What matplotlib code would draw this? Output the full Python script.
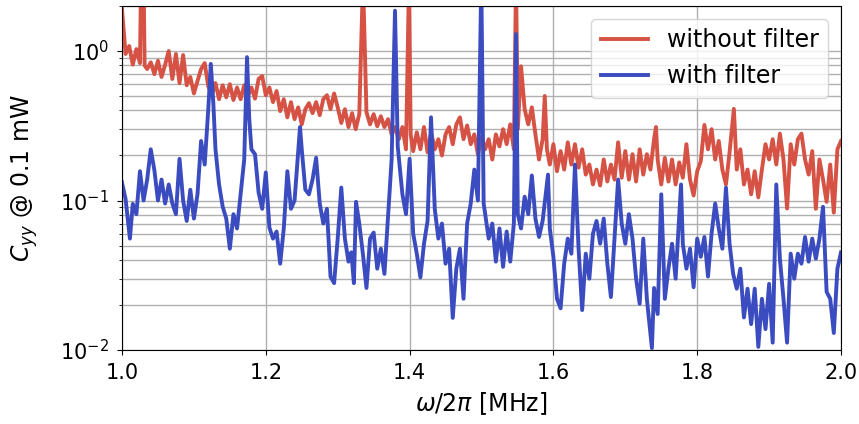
import matplotlib
matplotlib.use("Agg")
import matplotlib.pyplot as plt

# ---- data: without filter ----
freq_nofilter = [
    1.000, 1.005, 1.010, 1.015, 1.020, 1.025, 1.0265, 1.030, 1.0315, 1.035,
    1.040, 1.045, 1.050, 1.055, 1.060, 1.065, 1.070, 1.075, 1.080, 1.085,
    1.090, 1.095, 1.100, 1.105, 1.110, 1.115, 1.120, 1.125, 1.130, 1.135,
    1.140, 1.145, 1.150, 1.155, 1.160, 1.165, 1.170, 1.175, 1.180, 1.185,
    1.190, 1.195, 1.200, 1.205, 1.210, 1.215, 1.220, 1.225, 1.230, 1.235,
    1.240, 1.245, 1.250, 1.255, 1.260, 1.265, 1.270, 1.275, 1.280, 1.285,
    1.290, 1.295, 1.300, 1.305, 1.310, 1.315, 1.320, 1.325, 1.330, 1.3352,
    1.340, 1.345, 1.350, 1.355, 1.360, 1.365, 1.370, 1.375, 1.380, 1.385,
    1.390, 1.395, 1.3992, 1.4015, 1.405, 1.410, 1.415, 1.420, 1.425, 1.430,
    1.435, 1.440, 1.445, 1.450, 1.455, 1.460, 1.465, 1.470, 1.475, 1.480,
    1.485, 1.490, 1.495, 1.500, 1.505, 1.510, 1.515, 1.520, 1.525, 1.530,
    1.535, 1.540, 1.545, 1.548, 1.5505, 1.555, 1.560, 1.565, 1.570, 1.575,
    1.580, 1.585, 1.588, 1.591, 1.595, 1.600, 1.605, 1.610, 1.615, 1.620,
    1.625, 1.630, 1.635, 1.640, 1.645, 1.650, 1.655, 1.660, 1.665, 1.670,
    1.675, 1.680, 1.685, 1.690, 1.695, 1.700, 1.705, 1.710, 1.715, 1.720,
    1.725, 1.730, 1.735, 1.740, 1.7427, 1.745, 1.750, 1.755, 1.760, 1.765,
    1.770, 1.775, 1.780, 1.785, 1.790, 1.795, 1.800, 1.805, 1.810, 1.815,
    1.820, 1.825, 1.830, 1.835, 1.840, 1.845, 1.851, 1.855, 1.860, 1.865,
    1.870, 1.875, 1.880, 1.885, 1.890, 1.895, 1.900, 1.905, 1.910, 1.915,
    1.920, 1.925, 1.930, 1.935, 1.940, 1.945, 1.950, 1.955, 1.960, 1.965,
    1.970, 1.975, 1.980, 1.985, 1.990, 1.995, 2.000,
]
cyy_nofilter = [
    1.9, 0.955, 1.08, 0.81, 1.03, 0.83, 3.0, 3.0, 0.80, 0.757,
    0.84, 0.70, 0.86, 0.67, 0.81, 1.0, 0.65, 0.955, 0.61, 0.94,
    0.59, 0.67, 0.52, 0.63, 0.757, 0.83, 0.58, 0.51, 0.61, 0.476,
    0.59, 0.49, 0.60, 0.47, 0.57, 0.476, 0.59, 0.50, 0.57, 0.48,
    0.65, 0.68, 0.506, 0.57, 0.455, 0.54, 0.396, 0.476, 0.36, 0.455,
    0.35, 0.42, 0.323, 0.408, 0.448, 0.384, 0.455, 0.372, 0.476, 0.506,
    0.408, 0.52, 0.42, 0.33, 0.408, 0.31, 0.384, 0.30, 0.378, 3.0,
    0.39, 0.323, 0.378, 0.314, 0.366, 0.31, 0.35, 0.277, 0.31, 0.257,
    0.31, 0.22, 3.0, 0.277, 0.214, 0.286, 0.22, 0.31, 0.21, 0.286,
    0.22, 0.257, 0.20, 0.277, 0.31, 0.238, 0.323, 0.36, 0.257, 0.318,
    0.238, 0.277, 0.204, 0.265, 0.22, 0.257, 0.188, 0.277, 0.23, 0.30,
    0.238, 0.323, 0.22, 3.0, 0.30, 0.79, 0.408, 0.323, 0.42, 0.277,
    0.188, 0.257, 0.50, 0.22, 0.174, 0.238, 0.157, 0.214, 0.161, 0.245,
    0.174, 0.238, 0.166, 0.22, 0.149, 0.174, 0.128, 0.161, 0.126, 0.188,
    0.134, 0.174, 0.138, 0.245, 0.142, 0.214, 0.138, 0.204, 0.134, 0.22,
    0.149, 0.204, 0.161, 0.257, 0.31, 0.188, 0.128, 0.193, 0.134, 0.188,
    0.128, 0.18, 0.142, 0.238, 0.138, 0.108, 0.157, 0.183, 0.32, 0.22,
    0.30, 0.188, 0.25, 0.161, 0.128, 0.21, 0.41, 0.161, 0.22, 0.128,
    0.161, 0.11, 0.157, 0.105, 0.161, 0.238, 0.188, 0.257, 0.174, 0.28,
    0.188, 0.0884, 0.238, 0.174, 0.257, 0.28, 0.188, 0.149, 0.214, 0.088,
    0.188, 0.138, 0.098, 0.174, 0.083, 0.22, 0.25,
]

# ---- data: with filter ----
freq_filter = [
    1.000, 1.005, 1.011, 1.015, 1.020, 1.025, 1.030, 1.035, 1.040, 1.045,
    1.050, 1.055, 1.060, 1.065, 1.070, 1.075, 1.080, 1.085, 1.090, 1.095,
    1.100, 1.105, 1.110, 1.115, 1.120, 1.1235, 1.127, 1.130, 1.135, 1.140,
    1.145, 1.150, 1.155, 1.160, 1.165, 1.170, 1.1739, 1.177, 1.180, 1.185,
    1.190, 1.195, 1.200, 1.205, 1.210, 1.215, 1.220, 1.225, 1.230, 1.235,
    1.240, 1.2476, 1.250, 1.255, 1.260, 1.265, 1.270, 1.275, 1.280, 1.285,
    1.290, 1.295, 1.300, 1.305, 1.310, 1.315, 1.319, 1.3225, 1.3255, 1.330,
    1.335, 1.340, 1.345, 1.350, 1.355, 1.360, 1.365, 1.370, 1.375, 1.3797,
    1.3835, 1.390, 1.395, 1.400, 1.405, 1.410, 1.415, 1.420, 1.425, 1.4298,
    1.435, 1.440, 1.445, 1.450, 1.455, 1.460, 1.465, 1.470, 1.475, 1.480,
    1.485, 1.490, 1.495, 1.4997, 1.503, 1.510, 1.515, 1.520, 1.525, 1.530,
    1.535, 1.540, 1.545, 1.548, 1.5505, 1.555, 1.560, 1.565, 1.570, 1.575,
    1.580, 1.585, 1.5925, 1.595, 1.600, 1.605, 1.610, 1.615, 1.620, 1.625,
    1.630, 1.635, 1.640, 1.645, 1.650, 1.655, 1.660, 1.665, 1.670, 1.675,
    1.680, 1.685, 1.690, 1.695, 1.700, 1.705, 1.710, 1.715, 1.720, 1.725,
    1.730, 1.737, 1.740, 1.745, 1.750, 1.755, 1.760, 1.765, 1.770, 1.7775,
    1.780, 1.785, 1.790, 1.795, 1.800, 1.805, 1.810, 1.815, 1.820, 1.825,
    1.830, 1.835, 1.840, 1.845, 1.850, 1.855, 1.860, 1.865, 1.870, 1.875,
    1.880, 1.885, 1.890, 1.895, 1.900, 1.905, 1.910, 1.915, 1.920, 1.925,
    1.930, 1.935, 1.940, 1.945, 1.950, 1.955, 1.960, 1.965, 1.970, 1.975,
    1.980, 1.985, 1.990, 1.995, 2.000,
]
cyy_filter = [
    0.132, 0.102, 0.0556, 0.095, 0.081, 0.157, 0.10, 0.138, 0.22, 0.16,
    0.10, 0.138, 0.0955, 0.128, 0.0955, 0.081, 0.19, 0.10, 0.073, 0.118,
    0.0757, 0.11, 0.25, 0.174, 0.408, 0.82, 0.45, 0.22, 0.128, 0.091,
    0.0757, 0.0476, 0.081, 0.065, 0.11, 0.188, 0.91, 0.35, 0.22, 0.204,
    0.113, 0.088, 0.154, 0.066, 0.0556, 0.062, 0.0378, 0.065, 0.157, 0.088,
    0.10, 0.31, 0.22, 0.118, 0.11, 0.138, 0.193, 0.0955, 0.0701, 0.088,
    0.031, 0.028, 0.0556, 0.122, 0.0556, 0.039, 0.045, 0.028, 0.098, 0.0701,
    0.0441, 0.026, 0.0556, 0.061, 0.035, 0.0476, 0.0323, 0.078, 0.188, 1.86,
    0.23, 0.11, 0.081, 0.19, 0.06, 0.0441, 0.0306, 0.0514, 0.073, 0.36,
    0.088, 0.0556, 0.0701, 0.0378, 0.0476, 0.0164, 0.035, 0.0476, 0.022, 0.0701,
    0.0955, 0.161, 0.10, 3.0, 0.0955, 0.0556, 0.0701, 0.039, 0.065, 0.036,
    0.062, 0.039, 0.0701, 1.30, 0.081, 0.065, 0.106, 0.081, 0.147, 0.0757,
    0.057, 0.073, 0.149, 0.065, 0.042, 0.022, 0.0190, 0.0378, 0.0556, 0.0441,
    0.174, 0.0476, 0.0185, 0.0441, 0.030, 0.06, 0.073, 0.0514, 0.0757, 0.0378,
    0.0226, 0.0556, 0.138, 0.0701, 0.0514, 0.081, 0.0556, 0.030, 0.0204, 0.0556,
    0.022, 0.0103, 0.026, 0.0174, 0.11, 0.022, 0.035, 0.0514, 0.030, 0.128,
    0.0514, 0.035, 0.0476, 0.0263, 0.0556, 0.042, 0.057, 0.031, 0.06, 0.0955,
    0.065, 0.0476, 0.122, 0.0514, 0.0323, 0.0257, 0.035, 0.0165, 0.0257, 0.0149,
    0.0257, 0.0105, 0.022, 0.0138, 0.0277, 0.0112, 0.128, 0.0408, 0.022, 0.0112,
    0.0441, 0.030, 0.0441, 0.0378, 0.057, 0.039, 0.0556, 0.0408, 0.0556, 0.0907,
    0.0245, 0.022, 0.013, 0.035, 0.045,
]

series_labels = ["without filter", "with filter"]
x_ticks = [1.0, 1.2, 1.4, 1.6, 1.8, 2.0]

RED = "#d65244"
BLUE = "#3b4cc0"

fig = plt.figure(figsize=(8.59, 4.24), dpi=100)
ax = fig.add_axes([122 / 859, 74 / 424, 719 / 859, 344 / 424])

ax.plot(freq_nofilter, cyy_nofilter, color=RED, lw=2.8, label=series_labels[0])
ax.plot(freq_filter, cyy_filter, color=BLUE, lw=2.8, label=series_labels[1])

ax.set_yscale("log")
ax.set_xlim(1.0, 2.0)
ax.set_ylim(1e-2, 2.0)
ax.set_xticks(x_ticks)
ax.set_xticklabels([f"{t:.1f}" for t in x_ticks])

ax.grid(True, which="major", axis="both", color="#b0b0b0", lw=1.0)
ax.grid(True, which="minor", axis="y", color="#b0b0b0", lw=1.0)
ax.set_axisbelow(True)

ax.tick_params(axis="both", which="major", labelsize=15, length=3.5)
ax.tick_params(axis="x", which="major", pad=6)
ax.tick_params(axis="y", which="major", pad=6)
ax.set_xlabel(r"$\omega/2\pi$ [MHz]", fontsize=17, labelpad=5)
ax.set_ylabel(r"$C_{yy}$ @ 0.1 mW", fontsize=17, labelpad=14)

ax.legend(loc="upper right", fontsize=17, handlelength=2.0,
          borderaxespad=0.55)

fig.savefig("out.png", dpi=100)
